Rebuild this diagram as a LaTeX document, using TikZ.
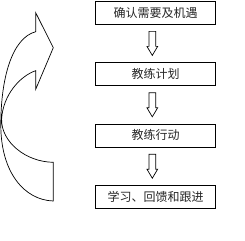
\documentclass[tikz,border=0pt]{standalone}
\usepackage{fontspec}
\newfontfamily\cjk{Noto Sans CJK SC}
\usetikzlibrary{calc}
\tikzset{
  stepbox/.style={draw=black, line width=0.8pt, minimum width=119.6pt, minimum height=23pt, inner sep=0pt, font=\cjk\fontsize{12pt}{14pt}\selectfont, text=black!85},
  blockarr/.style={draw=black, line width=0.7pt, fill=white, line join=miter},
  curvearr/.style={draw=black, line width=0.7pt, fill=white, line join=miter}
}
\newcommand{\blockdown}[3]{%
  \coordinate (#1) at ($(#2.south)!0.5!(#3.north)+(-3.2,0)$);
  \draw[blockarr] ($(#1)+(-3.35,-12)$) -- ($(#1)+(3.35,-12)$) -- ($(#1)+(3.35,3)$)
    -- ($(#1)+(5.35,3)$) -- ($(#1)+(0,12)$) -- ($(#1)+(-5.35,3)$) -- ($(#1)+(-3.35,3)$) -- cycle;
}
\begin{document}
\begin{tikzpicture}[x=1pt,y=-1pt]
\useasboundingbox (0,0) rectangle (245,240);
\fill[white] (0,0) rectangle (245,240);
\node[stepbox] (b1) at (155.5,12.6) {确认需要及机遇};
\node[stepbox] (b2) at (155.5,74.2) {教练计划};
\node[stepbox] (b3) at (155.5,135.4) {教练行动};
\node[stepbox] (b4) at (155.5,197) {学习、回馈和跟进};
\blockdown{a1}{b1}{b2}
\blockdown{a2}{b2}{b3}
\blockdown{a3}{b3}{b4}
% curved arrow on the left
\coordinate (ho) at (35.7,31.7);
\coordinate (ht) at (35.7,12.7);
\coordinate (tip) at (53.3,47.7);
\coordinate (hb) at (35.7,89.3);
\coordinate (hi) at (35.7,70.7);
\coordinate (il) at (1.6,119);
\coordinate (ie) at (53.3,162.3);
\coordinate (oe) at (53.3,201);
\coordinate (ol) at (0.8,125);
\draw[curvearr] (ho) -- (ht) -- (tip) -- (hb) -- (hi)
  .. controls (20,76) and (3,95) .. (il)
  .. controls (1,142) and (26,162) .. (ie)
  -- (oe)
  .. controls (24,200) and (0.8,172) .. (ol)
  .. controls (0.8,78) and (12,38) .. (ho) -- cycle;
\end{tikzpicture}
\end{document}
